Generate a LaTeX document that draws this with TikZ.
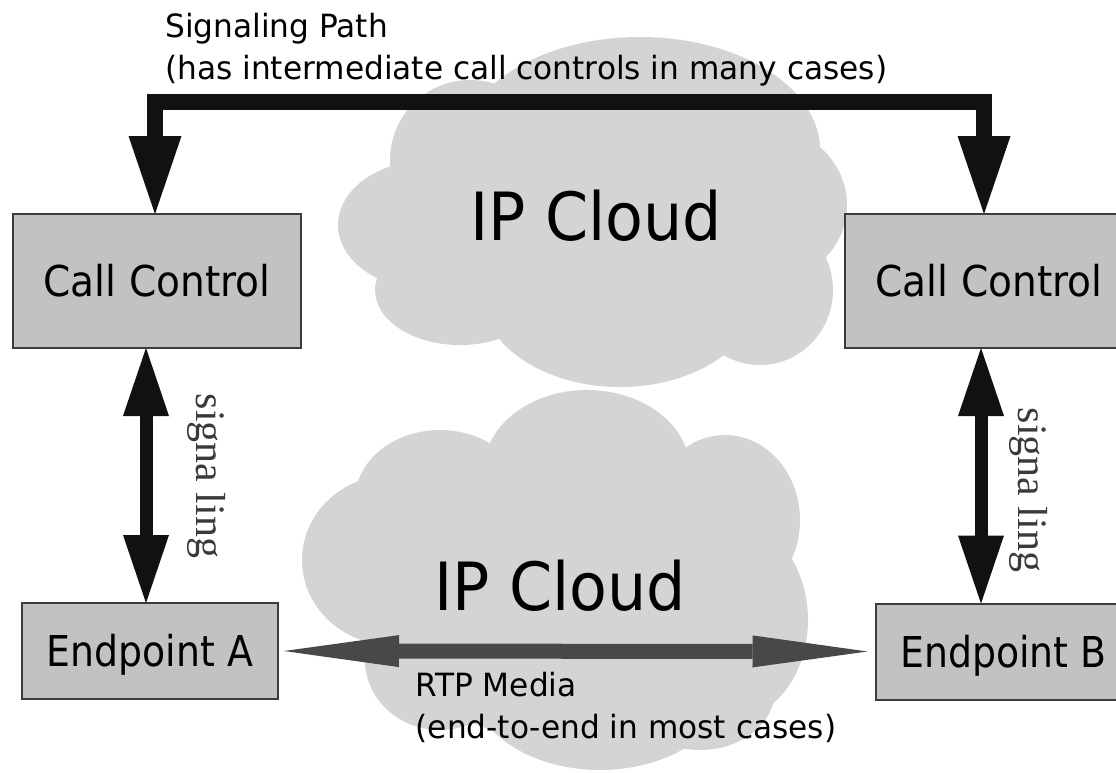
\documentclass[tikz,border=0pt]{standalone}
\usepackage{fontspec}
\usepackage{graphicx}
\newfontfamily\dvsans{DejaVu Sans}
\newfontfamily\lserif{Liberation Serif}
\usetikzlibrary{arrows.meta,calc}
\definecolor{cloudgray}{HTML}{D4D4D4}
\definecolor{boxgray}{HTML}{C2C2C2}
\definecolor{boxline}{HTML}{3C3C3C}
\definecolor{arrowblack}{HTML}{111111}
\definecolor{mediagray}{HTML}{484848}
\definecolor{sigtext}{HTML}{3A3A3A}
\begin{document}
\begin{tikzpicture}[x=1pt,y=-1pt,
  box/.style={draw=boxline, line width=2pt, fill=boxgray, inner sep=0pt, outer sep=0pt, text depth=0pt, text=black},
  ccbox/.style={box, minimum width=288pt, minimum height=134pt, font=\dvsans\fontsize{42.5}{50}\selectfont, text height=31pt},
  epbox/.style={box, minimum width=256pt, minimum height=96pt, font=\dvsans\fontsize{42.5}{50}\selectfont, text height=31pt},
  cloudtext/.style={font=\dvsans\fontsize{66.5}{80}\selectfont, text height=48.5pt, text depth=0pt, inner sep=0pt},
  note/.style={font=\dvsans\fontsize{32}{42}\selectfont, align=left, inner sep=0pt, anchor=base west},
  sigword/.style={font=\lserif\fontsize{42}{50}\selectfont, text=sigtext, rotate=-90, inner sep=0pt},
  cloudpart/.style={fill=cloudgray},
  sigpath/.style={draw=arrowblack, line width=16pt, line join=miter, {Triangle[length=78pt,width=53pt,line width=0pt]}-{Triangle[length=78pt,width=53pt,line width=0pt]}},
  sigarrow/.style={draw=arrowblack, line width=13pt, {Triangle[length=68pt,width=46pt,line width=0pt]}-{Triangle[length=68pt,width=46pt,line width=0pt]}},
  mediaarrow/.style={draw=mediagray, line width=15pt, {Triangle[length=115pt,width=32pt,line width=0pt]}-{Triangle[length=115pt,width=32pt,line width=0pt]}, shorten <=6pt, shorten >=8pt}
]
\useasboundingbox (0,0) rectangle (1116,772);
\fill[white] (0,0) rectangle (1116,772);
\clip (0,0) rectangle (1116,772);

% top cloud
\fill[cloudpart] (640,150) ellipse [x radius=180pt, y radius=113pt];
\fill[cloudpart] (470,160) ellipse [x radius=80pt, y radius=80pt];
\fill[cloudpart] (430,225) ellipse [x radius=92pt, y radius=65pt];
\fill[cloudpart] (460,290) ellipse [x radius=85pt, y radius=55pt];
\fill[cloudpart] (620,290) ellipse [x radius=140pt, y radius=97pt];
\fill[cloudpart] (760,290) ellipse [x radius=73pt, y radius=75pt];
\fill[cloudpart] (760,205) ellipse [x radius=87pt, y radius=80pt];
\fill[cloudpart] (740,150) ellipse [x radius=80pt, y radius=70pt];
\fill[cloudpart] (620,220) ellipse [x radius=200pt, y radius=120pt];

% bottom cloud
\fill[cloudpart] (587,470) ellipse [x radius=103pt, y radius=80pt];
\fill[cloudpart] (440,500) ellipse [x radius=85pt, y radius=70pt];
\fill[cloudpart] (725,520) ellipse [x radius=75pt, y radius=85pt];
\fill[cloudpart] (392,560) ellipse [x radius=90pt, y radius=85pt];
\fill[cloudpart] (440,660) ellipse [x radius=75pt, y radius=70pt];
\fill[cloudpart] (600,680) ellipse [x radius=130pt, y radius=90pt];
\fill[cloudpart] (730,620) ellipse [x radius=78pt, y radius=100pt];
\fill[cloudpart] (700,690) ellipse [x radius=75pt, y radius=60pt];
\fill[cloudpart] (565,590) ellipse [x radius=200pt, y radius=150pt];

% boxes
\node[ccbox] (ccL) at (157,281) {\scalebox{0.92}[1]{Call Control}};
\node[ccbox] (ccR) at (989,281) {\scalebox{0.92}[1]{Call Control}};
\node[epbox] (epA) at (150,651) {\scalebox{0.89}[1]{Endpoint A}};
\node[epbox] (epB) at (1003.5,651.5) {\scalebox{0.89}[1]{Endpoint B}};

% cloud labels
\node[cloudtext] (ipTop) at (596,216) {\scalebox{0.93}[1]{IP Cloud}};
\node[cloudtext] (ipBot) at (560,586) {\scalebox{0.93}[1]{IP Cloud}};

% helper coordinates
\coordinate (sigbar) at (0,102);
\coordinate (topL) at (155,0);
\coordinate (topR) at (984,0);
\coordinate (sideL) at (146,0);
\coordinate (sideR) at (981,0);

% signaling path across the top
\draw[sigpath] (ccL.north -| topL) -- (sigbar -| topL) -- (sigbar -| topR) -- (ccR.north -| topR);

% vertical signaling arrows
\draw[sigarrow] (ccL.south -| sideL) -- (epA.north -| sideL);
\draw[sigarrow] (ccR.south -| sideR) -- (epB.north -| sideR);

% media arrow
\draw[mediaarrow] (epA.east) -- (epB.west);

% labels (base anchor = baseline of the last line)
\node[note] (sigNote) at (165,79) {\scalebox{0.975}[1]{Signaling Path}\\\scalebox{0.975}[1]{(has intermediate call controls in many cases)}};
\node[note] (rtpNote) at (415.5,738) {\scalebox{0.975}[1]{RTP Media}\\\scalebox{0.975}[1]{(end-to-end in most cases)}};
\node[sigword] (sigL) at (207,476) {signa ling};
\node[sigword] (sigR) at (1029,490) {signa ling};
\end{tikzpicture}
\end{document}
